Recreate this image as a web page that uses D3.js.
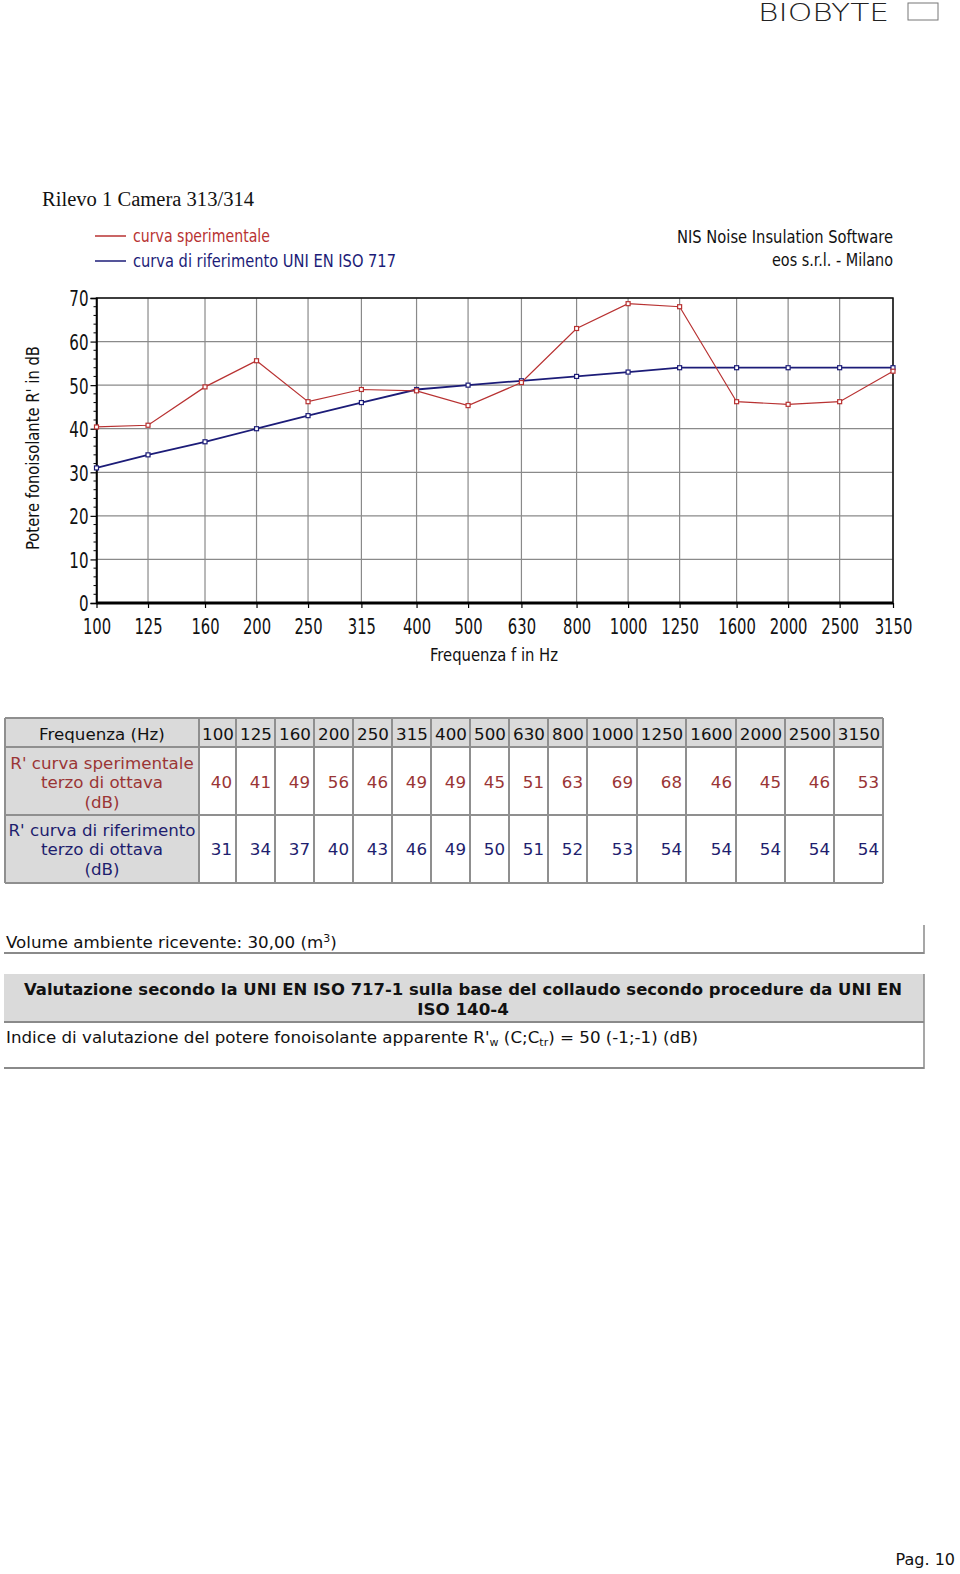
<!DOCTYPE html>
<html><head><meta charset="utf-8">
<script src="https://cdn.jsdelivr.net/npm/d3@7"></script>
<style>
html,body{margin:0;padding:0;background:#fff;}
svg{display:block;}
</style></head>
<body>
<svg id="c" width="960" height="1574"></svg>
<script>
// ---------- DATA ----------
const frequencies = [100,125,160,200,250,315,400,500,630,800,1000,1250,1600,2000,2500,3150];
const measuredPlot = [40.4,40.8,49.6,55.6,46.2,49.0,48.7,45.3,50.6,63.0,68.7,68.0,46.2,45.6,46.2,53.2];
const referencePlot = [31,34,37,40,43,46,49,50,51,52,53,54,54,54,54,54];
const measuredTable = [40,41,49,56,46,49,49,45,51,63,69,68,46,45,46,53];
const referenceTable = [31,34,37,40,43,46,49,50,51,52,53,54,54,54,54,54];
const yTicks = [0,10,20,30,40,50,60,70];
const tableColEdges = [199,236,275,314,353,392,431,470,509,548,587,637,686,736,785,834,883];

const RED = "#b83232", BLUE = "#1c1c78", TRED = "#9a3535", TBLUE = "#1e1e6e";
const NARROW = "'Liberation Sans Narrow','Arial Narrow','DejaVu Sans Condensed',sans-serif";
const VERD = "'DejaVu Sans',Verdana,sans-serif";
const FS = 16.7;

const svg = d3.select("#c");

// ---------- header logo ----------
svg.append("text").attr("x",758).attr("y",21).attr("font-family","'DejaVu Sans',sans-serif")
  .attr("font-weight",200).attr("font-size",24).attr("textLength",131).attr("lengthAdjust","spacingAndGlyphs")
  .attr("fill","#222").text("BIOBYTE");
svg.append("rect").attr("x",908).attr("y",3).attr("width",30).attr("height",17)
  .attr("fill","none").attr("stroke","#777").attr("stroke-width",1);

// ---------- title ----------
svg.append("text").attr("x",42).attr("y",206).attr("font-family","'Liberation Serif',serif")
  .attr("font-size",20).attr("textLength",212).attr("lengthAdjust","spacingAndGlyphs")
  .attr("fill","#111").text("Rilevo 1 Camera 313/314");

// ---------- chart ----------
const x = d3.scaleLog().domain([100,3150]).range([96.5,893]);
const y = d3.scaleLinear().domain([0,70]).range([603,298]);

const g = svg.append("g");
g.selectAll("line.vg").data(frequencies).join("line")
  .attr("x1",d=>x(d)).attr("x2",d=>x(d)).attr("y1",y(70)).attr("y2",y(0))
  .attr("stroke","#8a8a8a").attr("stroke-width",1.2);
g.selectAll("line.hg").data(yTicks).join("line")
  .attr("x1",x(100)).attr("x2",x(3150)).attr("y1",d=>y(d)).attr("y2",d=>y(d))
  .attr("stroke","#8a8a8a").attr("stroke-width",1.2);
g.append("rect").attr("x",x(100)).attr("y",y(70)).attr("width",x(3150)-x(100)).attr("height",y(0)-y(70))
  .attr("fill","none").attr("stroke","#111").attr("stroke-width",1.5);
g.append("line").attr("x1",x(100)).attr("x2",x(3150)).attr("y1",y(0)).attr("y2",y(0))
  .attr("stroke","#000").attr("stroke-width",3);

// y axis
const yAxis = d3.axisLeft(y).tickValues(yTicks).tickSize(6).tickPadding(2).tickFormat(d3.format("d"));
const ya = svg.append("g").attr("transform",`translate(${x(100)},0)`).call(yAxis);
ya.select(".domain").attr("stroke","#000").attr("stroke-width",1.5);
ya.selectAll(".tick line").attr("stroke","#000").attr("stroke-width",1.2);
ya.selectAll("text").attr("font-family",NARROW).attr("font-size",22).attr("fill","#111").attr("dy","0.36em")
  .attr("textLength",function(){return this.textContent.length*9.6;}).attr("lengthAdjust","spacingAndGlyphs");
const minor = d3.range(0,71,2).filter(v=>v%10!==0);
svg.append("g").selectAll("line").data(minor).join("line")
  .attr("x1",x(100)-3).attr("x2",x(100)).attr("y1",d=>y(d)).attr("y2",d=>y(d))
  .attr("stroke","#000").attr("stroke-width",1);

// x axis
const xAxis = d3.axisBottom(x).tickValues(frequencies).tickSize(5).tickPadding(10).tickFormat(d3.format("d"));
const xa = svg.append("g").attr("transform",`translate(0,${y(0)})`).call(xAxis);
xa.select(".domain").remove();
xa.selectAll(".tick line").attr("stroke","#000").attr("stroke-width",1.2);
xa.selectAll("text").attr("font-family",NARROW).attr("font-size",22).attr("fill","#111")
  .attr("textLength",function(){return this.textContent.length*9.4;}).attr("lengthAdjust","spacingAndGlyphs");

// axis titles
svg.append("text").attr("transform","translate(39,448) rotate(-90)").attr("text-anchor","middle")
  .attr("font-family",NARROW).attr("font-size",17).attr("fill","#111")
  .attr("textLength",204).attr("lengthAdjust","spacingAndGlyphs").text("Potere fonoisolante R' in dB");
svg.append("text").attr("x",494).attr("y",661).attr("text-anchor","middle")
  .attr("font-family",NARROW).attr("font-size",18).attr("fill","#111")
  .attr("textLength",128).attr("lengthAdjust","spacingAndGlyphs").text("Frequenza f in Hz");

// lines
const line = d3.line().x(d=>x(d[0])).y(d=>y(d[1]));
const series = [
  {vals: referencePlot, color: BLUE, w: 1.8},
  {vals: measuredPlot, color: RED, w: 1.2}
];
series.forEach(s=>{
  const pts = frequencies.map((f,i)=>[f,s.vals[i]]);
  svg.append("path").attr("d",line(pts)).attr("fill","none").attr("stroke",s.color).attr("stroke-width",s.w);
  svg.append("g").selectAll("rect").data(pts).join("rect")
    .attr("x",d=>x(d[0])-2).attr("y",d=>y(d[1])-2).attr("width",4).attr("height",4)
    .attr("fill","#fff").attr("stroke",s.color).attr("stroke-width",1.2);
});

// legend
const leg = [
  {label:"curva sperimentale", color:RED, yy:236, len:137},
  {label:"curva di riferimento UNI EN ISO 717", color:BLUE, yy:261, len:263}
];
leg.forEach(l=>{
  svg.append("line").attr("x1",95).attr("x2",126).attr("y1",l.yy).attr("y2",l.yy)
    .attr("stroke",l.color).attr("stroke-width",1.5);
  svg.append("text").attr("x",133).attr("y",l.yy+6).attr("font-family",NARROW).attr("font-size",18)
    .attr("fill",l.color).attr("textLength",l.len).attr("lengthAdjust","spacingAndGlyphs").text(l.label);
});
svg.append("text").attr("x",893).attr("y",243).attr("text-anchor","end").attr("font-family",NARROW)
  .attr("font-size",18).attr("fill","#111").attr("textLength",216).attr("lengthAdjust","spacingAndGlyphs")
  .text("NIS Noise Insulation Software");
svg.append("text").attr("x",893).attr("y",266).attr("text-anchor","end").attr("font-family",NARROW)
  .attr("font-size",18).attr("fill","#111").attr("textLength",121).attr("lengthAdjust","spacingAndGlyphs")
  .text("eos s.r.l. - Milano");

// ---------- table ----------
const T = svg.append("g").attr("font-family",VERD).attr("font-size",FS);
const rowsY = [718,747,815,883];
const L = 5, R = 883;
T.append("rect").attr("x",L).attr("y",rowsY[0]).attr("width",R-L).attr("height",rowsY[1]-rowsY[0]).attr("fill","#dadada");
T.append("rect").attr("x",L).attr("y",rowsY[1]).attr("width",tableColEdges[0]-L).attr("height",rowsY[3]-rowsY[1]).attr("fill","#dadada");
const BC = "#8f8f8f";
rowsY.forEach(yy=>T.append("line").attr("x1",L).attr("x2",R).attr("y1",yy).attr("y2",yy).attr("stroke",BC).attr("stroke-width",2));
[L].concat(tableColEdges).forEach(xx=>T.append("line").attr("x1",xx).attr("x2",xx).attr("y1",rowsY[0]).attr("y2",rowsY[3]).attr("stroke",BC).attr("stroke-width",2));
T.append("text").attr("x",(L+tableColEdges[0])/2).attr("y",740).attr("text-anchor","middle").attr("fill","#111").text("Frequenza (Hz)");
T.selectAll("text.h").data(frequencies).join("text")
  .attr("x",(d,i)=>(tableColEdges[i]+tableColEdges[i+1])/2+0.5).attr("y",740).attr("text-anchor","middle")
  .attr("fill","#111").text(d=>d);
const rowLabels = [
  {lines:["R' curva sperimentale","terzo di ottava","(dB)"], color:TRED, ys:[769,788,808]},
  {lines:["R' curva di riferimento","terzo di ottava","(dB)"], color:TBLUE, ys:[836,855,875]}
];
rowLabels.forEach(r=>{
  r.lines.forEach((t,i)=>T.append("text").attr("x",(L+tableColEdges[0])/2).attr("y",r.ys[i])
    .attr("text-anchor","middle").attr("fill",r.color).text(t));
});
T.selectAll("text.m").data(measuredTable).join("text")
  .attr("x",(d,i)=>tableColEdges[i+1]-4).attr("y",788).attr("text-anchor","end").attr("fill",TRED).text(d=>d);
T.selectAll("text.r").data(referenceTable).join("text")
  .attr("x",(d,i)=>tableColEdges[i+1]-4).attr("y",855).attr("text-anchor","end").attr("fill",TBLUE).text(d=>d);

// ---------- volume box ----------
const B = svg.append("g").attr("font-family",VERD).attr("font-size",FS).attr("fill","#111");
const vt = B.append("text").attr("x",6).attr("y",948);
vt.append("tspan").text("Volume ambiente ricevente: 30,00 (m");
vt.append("tspan").attr("font-size",11).attr("dy",-6).text("3");
vt.append("tspan").attr("dy",6).text(")");
B.append("line").attr("x1",4).attr("x2",924).attr("y1",953).attr("y2",953).attr("stroke","#8a8a8a").attr("stroke-width",2);
B.append("line").attr("x1",924).attr("x2",924).attr("y1",925).attr("y2",954).attr("stroke","#8a8a8a").attr("stroke-width",1.5);

// ---------- evaluation box ----------
B.append("rect").attr("x",4).attr("y",974).attr("width",920).attr("height",48).attr("fill","#dadada");
B.append("line").attr("x1",4).attr("x2",924).attr("y1",1022).attr("y2",1022).attr("stroke","#8a8a8a").attr("stroke-width",2);
B.append("line").attr("x1",4).attr("x2",924).attr("y1",1068).attr("y2",1068).attr("stroke","#8a8a8a").attr("stroke-width",2);
B.append("line").attr("x1",924).attr("x2",924).attr("y1",974).attr("y2",1069).attr("stroke","#8a8a8a").attr("stroke-width",1.5);
B.append("text").attr("x",463).attr("y",995).attr("text-anchor","middle").attr("font-weight","bold")
  .attr("textLength",878).attr("lengthAdjust","spacingAndGlyphs")
  .text("Valutazione secondo la UNI EN ISO 717-1 sulla base del collaudo secondo procedure da UNI EN");
B.append("text").attr("x",463).attr("y",1015).attr("text-anchor","middle").attr("font-weight","bold").text("ISO 140-4");
const it = B.append("text").attr("x",6).attr("y",1043);
it.append("tspan").text("Indice di valutazione del potere fonoisolante apparente R'");
it.append("tspan").attr("font-size",11).attr("dy",3).text("w");
it.append("tspan").attr("dy",-3).text(" (C;C");
it.append("tspan").attr("font-size",11).attr("dy",3).text("tr");
it.append("tspan").attr("dy",-3).text(") = 50 (-1;-1) (dB)");

// ---------- page number ----------
svg.append("text").attr("x",955).attr("y",1565).attr("text-anchor","end").attr("font-family",VERD)
  .attr("font-size",16).attr("fill","#111").text("Pag. 10");
</script>
</body></html>
